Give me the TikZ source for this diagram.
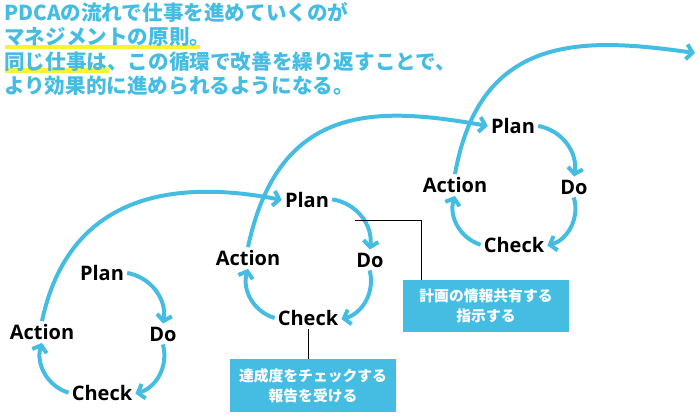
\documentclass[tikz,border=0pt]{standalone}
\usepackage{fontspec}
\newfontfamily\jp{Noto Sans CJK JP}
\newfontfamily\lab{Open Sans}
\usetikzlibrary{arrows.meta}
\definecolor{cyanb}{RGB}{69,189,227}
\definecolor{hl}{RGB}{248,244,52}
\begin{document}
\begin{tikzpicture}[x=1pt,y=1pt,
  lbl/.style={font=\lab\bfseries\fontsize{20}{20}\selectfont, inner sep=3pt, text=black},
  cyc/.style={line width=4pt, draw=cyanb, -{Straight Barb[length=6pt,width=15pt]}},
  ttl/.style={font=\jp\bfseries\fontsize{20.6}{20.6}\selectfont, text=cyanb, inner sep=0pt, anchor=base west},
  infobox/.style={fill=cyanb, text=white, minimum width=166pt, minimum height=52pt, inner sep=0pt, align=center, font=\jp\bfseries\fontsize{14.8}{20}\selectfont},
  callout/.style={draw=black, line width=0.9pt}]
\useasboundingbox (0,0) rectangle (700,417);
% highlights
\fill[hl] (5,368) rectangle (200,372);
\fill[hl] (5,344) rectangle (109,349);
% title
\node[ttl] (t1) at (4,396) {PDCAの流れで仕事を進めていくのが};
\node[ttl] (t2) at (4,372) {マネジメントの原則。};
\node[ttl] (t3) at (4,347) {同じ仕事は、この循環で改善を繰り返すことで、};
\node[ttl] (t4) at (4,323) {より効果的に進められるようになる。};
% cycle 1
\node[lbl] (p1) at (102,144) {Plan};
\node[lbl] (d1) at (163,83) {Do};
\node[lbl] (k1) at (102,24) {Check};
\node[lbl] (a1) at (42,85) {Action};
% cycle 2
\node[lbl] (p2) at (307,217) {Plan};
\node[lbl] (d2) at (370,157) {Do};
\node[lbl] (k2) at (308,99) {Check};
\node[lbl] (a2) at (248,159) {Action};
% cycle 3
\node[lbl] (p3) at (513,291) {Plan};
\node[lbl] (d3) at (574,230) {Do};
\node[lbl] (k3) at (514,172) {Check};
\node[lbl] (a3) at (455,232) {Action};
\coordinate (e3) at (695,364);
% cycle arrows
\foreach \c in {1,2,3}{
  \draw[cyc] (p\c) to[bend left=45] (d\c);
  \draw[cyc] (d\c) to[bend left=45] (k\c);
  \draw[cyc] (k\c) to[bend left=45] (a\c);
}
% connecting arcs
\draw[cyc] (a1.north) .. controls +(78:130) and +(169:110) .. (p2.west);
\draw[cyc] (a2.north) .. controls +(78:150) and +(170:110) .. (p3.west);
\draw[cyc] (a3.north) .. controls +(80:145) and +(172:110) .. (e3);
% boxes
\node[infobox] (b1) at (486,111) {計画の情報共有する\\指示する};
\node[infobox, minimum height=53pt] (b2) at (313,31.5) {達成度をチェックする\\報告を受ける};
\coordinate (c1) at (355,197);
\draw[callout] (c1) -| ([xshift=19pt]b1.north west);
\draw[callout] (k2.south) -- (k2.south |- b2.north);
\end{tikzpicture}
\end{document}
